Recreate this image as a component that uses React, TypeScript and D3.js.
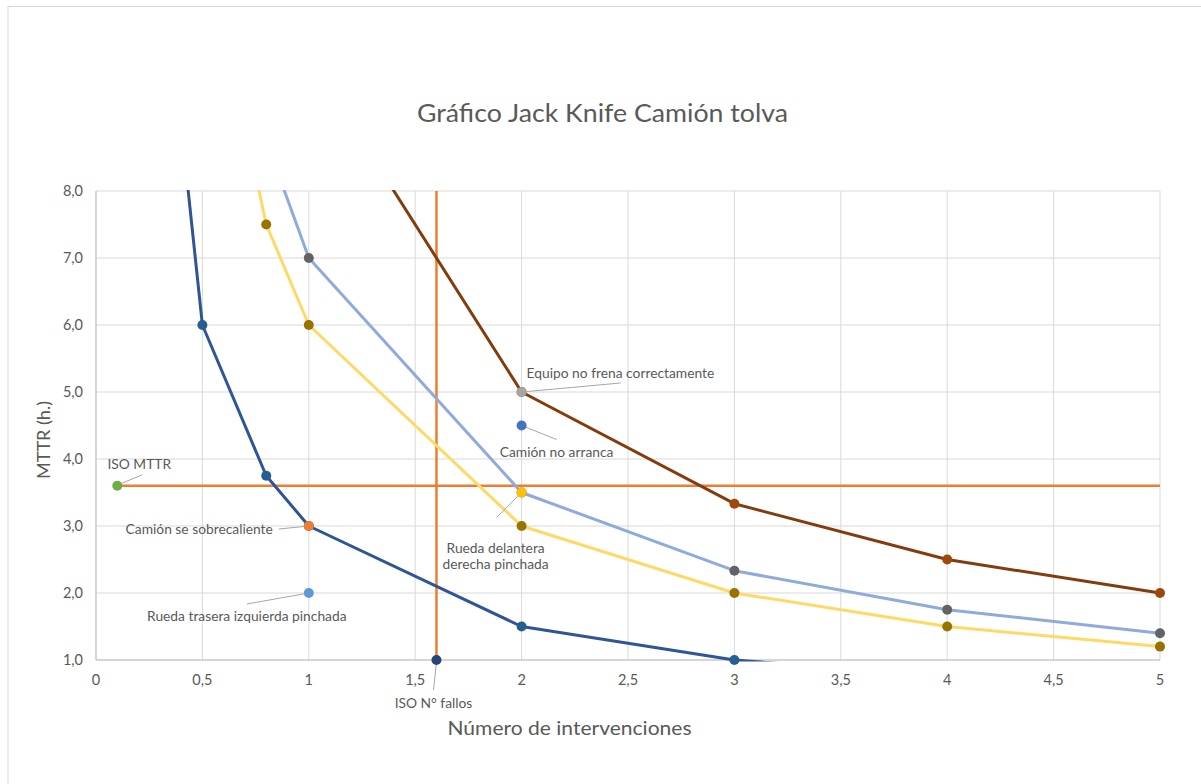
import React from "react";
import * as d3 from "d3";

// Number of interventions sampled for every iso-downtime curve
const interventions = [0.2, 0.5, 0.8, 1, 2, 3, 4, 5];
// MTTR along each iso-downtime curve (N × MTTR constant)
const curve3h = [15, 6, 3.75, 3, 1.5, 1, 0.75, 0.6];
const curve6h = [30, 12, 7.5, 6, 3, 2, 1.5, 1.2];
const curve7h = [35, 14, 8.75, 7, 3.5, 2.333, 1.75, 1.4];
const curve10h = [50, 20, 12.5, 10, 5, 3.333, 2.5, 2];

// Failure modes of the hopper truck
const failureNames = [
  "Camión se sobrecaliente",
  "Rueda trasera izquierda pinchada",
  "Equipo no frena correctamente",
  "Camión no arranca",
  "Rueda delantera derecha pinchada",
];
const failureCounts = [1, 1, 2, 2, 2];
const failureMttr = [3, 2, 5, 4.5, 3.5];

// ISO reference thresholds
const isoMttr = 3.6;
const isoMttrX = 0.1;
const isoFailures = 1.6;
const isoFailuresY = 1;

const xTicks = [0, 0.5, 1, 1.5, 2, 2.5, 3, 3.5, 4, 4.5, 5];
const yTicks = [1, 2, 3, 4, 5, 6, 7, 8];

const W = 1201;
const H = 784;
const plot = { left: 96, right: 1160, top: 191, bottom: 660 };

const FONT = "Lato, 'Open Sans', sans-serif";
const TEXT = "#595959";

const curveStyles = [
  { values: curve3h, line: "#2F5597", marker: "#255E91" },
  { values: curve6h, line: "#FFD966", marker: "#997300" },
  { values: curve7h, line: "#8FAADC", marker: "#636363" },
  { values: curve10h, line: "#843C0C", marker: "#9E480E" },
];

const failureColors = ["#ED7D31", "#5B9BD5", "#A5A5A5", "#4472C4", "#FFC000"];

// label placement relative to each point: [dx, dy, anchor, leader start dx, leader start dy]
const failureLabelLayout: [number, number, string, number, number][] = [
  [-36, 8, "end", -30, 3],
  [-62, 28, "middle", -62, 11],
  [5, -14, "start", 99, -9],
  [35, 31, "middle", 35, 14],
  [-26, 60, "middle", -25, 25],
];

export default function App() {
  const x = d3.scaleLinear().domain([0, 5]).range([plot.left, plot.right]);
  const y = d3.scaleLinear().domain([1, 8]).range([plot.bottom, plot.top]);

  const line = d3
    .line<[number, number]>()
    .x((d) => x(d[0]))
    .y((d) => y(d[1]))
    .curve(d3.curveLinear);

  const fmtY = (v: number) => v.toFixed(1).replace(".", ",");
  const fmtX = (v: number) => String(v).replace(".", ",");

  const isoMttrPt = [x(isoMttrX), y(isoMttr)];
  const isoFailPt = [x(isoFailures), y(isoFailuresY)];

  return (
    <svg
      width={W}
      height={H}
      style={{ position: "absolute", left: 0, top: 0, background: "#fff" }}
      fontFamily={FONT}
    >
      <defs>
        <clipPath id="plot-clip">
          <rect
            x={plot.left}
            y={plot.top - 1}
            width={plot.right - plot.left + 2}
            height={plot.bottom - plot.top + 2.5}
          />
        </clipPath>
      </defs>
      <rect x={8} y={6.5} width={W} height={H} fill="#fff" stroke="#D9D9D9" strokeWidth={1} />

      <text
        x={602.5}
        y={122}
        textAnchor="middle"
        fontSize={24.5}
        fill={TEXT}
        textLength={371}
        lengthAdjust="spacingAndGlyphs"
      >
        Gráfico Jack Knife Camión tolva
      </text>

      {/* gridlines */}
      {xTicks.map((t) => (
        <line key={"gx" + t} x1={x(t)} x2={x(t)} y1={plot.top} y2={plot.bottom} stroke="#D9D9D9" strokeWidth={1} />
      ))}
      {yTicks.map((t) => (
        <line key={"gy" + t} x1={plot.left} x2={plot.right} y1={y(t)} y2={y(t)} stroke="#D9D9D9" strokeWidth={1} />
      ))}
      <line x1={plot.left} x2={plot.left} y1={plot.top} y2={plot.bottom} stroke="#BFBFBF" strokeWidth={1} />
      <line x1={plot.left} x2={plot.right} y1={plot.bottom} y2={plot.bottom} stroke="#BFBFBF" strokeWidth={1} />

      {/* tick labels */}
      {yTicks.map((t) => (
        <text key={"ty" + t} x={83} y={y(t) + 5} textAnchor="end" fontSize={14.5} fill={TEXT}>
          {fmtY(t)}
        </text>
      ))}
      {xTicks.map((t) => (
        <text key={"tx" + t} x={x(t)} y={684.5} textAnchor="middle" fontSize={14.5} fill={TEXT}>
          {fmtX(t)}
        </text>
      ))}

      {/* axis titles */}
      <text
        x={569.5}
        y={735}
        textAnchor="middle"
        fontSize={18.5}
        fill={TEXT}
        textLength={244}
        lengthAdjust="spacingAndGlyphs"
      >
        Número de intervenciones
      </text>
      <text
        transform={`translate(50,440) rotate(-90)`}
        textAnchor="middle"
        fontSize={17.5}
        fill={TEXT}
        textLength={78}
        lengthAdjust="spacingAndGlyphs"
      >
        MTTR (h.)
      </text>

      {/* ISO reference lines */}
      <line
        x1={x(isoMttrX)}
        x2={x(5)}
        y1={y(isoMttr)}
        y2={y(isoMttr)}
        stroke="#ED7D31"
        strokeWidth={2.5}
      />
      <line
        x1={x(isoFailures)}
        x2={x(isoFailures)}
        y1={y(isoFailuresY)}
        y2={y(8)}
        stroke="#ED7D31"
        strokeWidth={2.5}
      />

      {/* iso-downtime curves */}
      <g clipPath="url(#plot-clip)">
        {curveStyles.map((c, i) => (
          <path
            key={"c" + i}
            d={line(interventions.map((n, j) => [n, c.values[j]] as [number, number])) || ""}
            fill="none"
            stroke={c.line}
            strokeWidth={3}
            strokeLinejoin="round"
          />
        ))}
      </g>
      {curveStyles.map((c, i) =>
        interventions.map((n, j) =>
          c.values[j] <= 8 && c.values[j] >= 1 ? (
            <circle key={"m" + i + "-" + j} cx={x(n)} cy={y(c.values[j])} r={5} fill={c.marker} />
          ) : null
        )
      )}

      {/* leader lines */}
      <g stroke="#A6A6A6" strokeWidth={1}>
        <line x1={isoMttrPt[0] + 3} y1={isoMttrPt[1] - 2} x2={isoMttrPt[0] + 25} y2={isoMttrPt[1] - 11} />
        <line x1={isoFailPt[0]} y1={isoFailPt[1] + 2} x2={isoFailPt[0] - 3} y2={isoFailPt[1] + 30} />
        {failureNames.map((_, i) => {
          const px = x(failureCounts[i]);
          const py = y(failureMttr[i]);
          const L = failureLabelLayout[i];
          return <line key={"l" + i} x1={px} y1={py} x2={px + L[3]} y2={py + L[4]} />;
        })}
      </g>

      {/* failure mode points */}
      {failureNames.map((_, i) => (
        <circle key={"f" + i} cx={x(failureCounts[i])} cy={y(failureMttr[i])} r={5} fill={failureColors[i]} />
      ))}
      <circle cx={isoMttrPt[0]} cy={isoMttrPt[1]} r={5} fill="#70AD47" />
      <circle cx={isoFailPt[0]} cy={isoFailPt[1]} r={5} fill="#264478" />

      {/* data labels */}
      <g fontSize={13.8} fill={TEXT}>
        <text x={isoMttrPt[0] + 22} y={isoMttrPt[1] - 17} textAnchor="middle">
          ISO MTTR
        </text>
        <text x={isoFailPt[0] - 3} y={isoFailPt[1] + 48} textAnchor="middle">
          ISO N° fallos
        </text>
        {failureNames.map((name, i) => {
          const px = x(failureCounts[i]);
          const py = y(failureMttr[i]);
          const L = failureLabelLayout[i];
          const words = name.split(" ");
          const lines = i === 4 ? [words.slice(0, 2).join(" "), words.slice(2).join(" ")] : [name];
          return (
            <text key={"t" + i} x={px + L[0]} y={py + L[1]} textAnchor={L[2] as any}>
              {lines.map((ln, k) => (
                <tspan key={k} x={px + L[0]} dy={k === 0 ? 0 : 16}>
                  {ln}
                </tspan>
              ))}
            </text>
          );
        })}
      </g>
    </svg>
  );
}
